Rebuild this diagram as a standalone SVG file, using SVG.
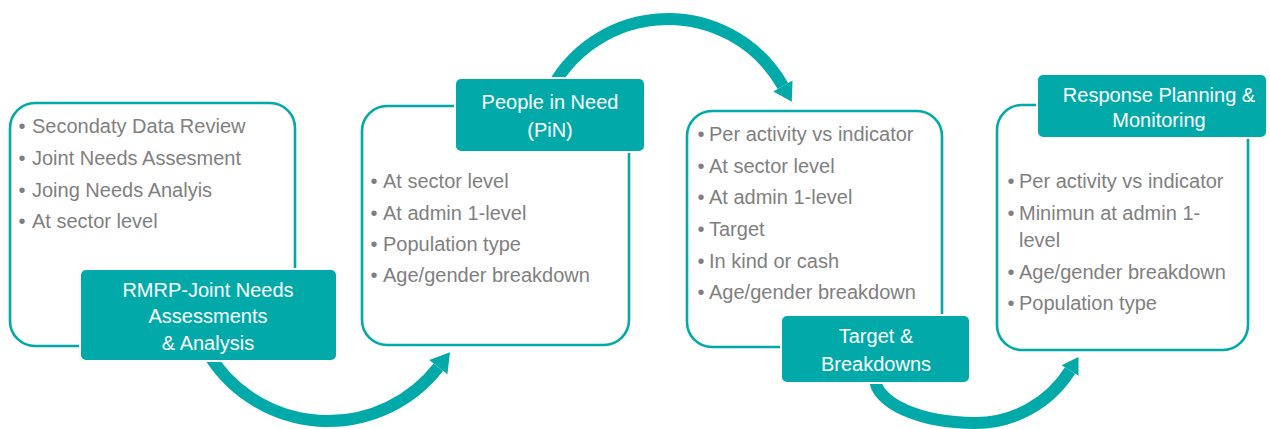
<svg xmlns="http://www.w3.org/2000/svg" width="1270" height="429" viewBox="0 0 1270 429">
<style>
.outline{fill:#ffffff;stroke:#02A9A9;stroke-width:2.6}
.label{fill:#02A9A9;stroke:#ffffff;stroke-width:2}
.arc{fill:none;stroke:#02A9A9;stroke-width:12}
.head{fill:#02A9A9}
.item{font-family:"Liberation Sans",Arial,sans-serif;font-size:20px;fill:#7F7F7F}
.ltxt{font-family:"Liberation Sans",Arial,sans-serif;font-size:20px;fill:#ffffff;text-anchor:middle}
</style>
<rect width="1270" height="429" fill="#ffffff"/>
<g id="connectors">
<path class="arc" d="M206.76 351 A140 140 0 0 0 438.32 367.19"/>
<polygon class="head" points="450,352.2 447.4,374.3 429.3,360.1"/>
<path class="arc" d="M543.96 105.85 A132 132 0 0 1 782.9 86"/>
<polygon class="head" points="791.8,101.7 792.5,80.6 773.3,91.4"/>
<path class="arc" d="M875 378 A100 45 0 0 0 975 423 A112 112 0 0 0 1070 370.5"/>
<polygon class="head" points="1078.5,357 1078.5,375.8 1061.6,365.2"/>
</g>
<g id="node1">
<rect class="outline" x="10" y="103" width="285" height="243" rx="25"/>
<text class="item" y="133.3"><tspan x="18.5">•</tspan><tspan x="32">Secondaty Data Review</tspan></text>
<text class="item" y="165"><tspan x="18.5">•</tspan><tspan x="32">Joint Needs Assesment</tspan></text>
<text class="item" y="196.7"><tspan x="18.5">•</tspan><tspan x="32">Joing Needs Analyis</tspan></text>
<text class="item" y="228.3"><tspan x="18.5">•</tspan><tspan x="32">At sector level</tspan></text>
<rect class="label" x="80" y="269" width="257" height="92" rx="6"/>
<text class="ltxt" x="208" y="296.7">RMRP-Joint Needs</text>
<text class="ltxt" x="208" y="323.3">Assessments</text>
<text class="ltxt" x="208" y="350">&amp; Analysis</text>
</g>
<g id="node2">
<rect class="outline" x="362" y="106" width="267" height="239" rx="25"/>
<rect class="label" x="455" y="78" width="190" height="74" rx="6"/>
<text class="ltxt" x="550" y="109.3">People in Need</text>
<text class="ltxt" x="550" y="136.7">(PiN)</text>
<text class="item" y="188.3"><tspan x="370.5">•</tspan><tspan x="383">At sector level</tspan></text>
<text class="item" y="219.8"><tspan x="370.5">•</tspan><tspan x="383">At admin 1-level</tspan></text>
<text class="item" y="251.3"><tspan x="370.5">•</tspan><tspan x="383">Population type</tspan></text>
<text class="item" y="282.3"><tspan x="370.5">•</tspan><tspan x="383">Age/gender breakdown</tspan></text>
</g>
<g id="node3">
<rect class="outline" x="687" y="111" width="255" height="236" rx="25"/>
<text class="item" y="141"><tspan x="697.5">•</tspan><tspan x="709">Per activity vs indicator</tspan></text>
<text class="item" y="172.7"><tspan x="697.5">•</tspan><tspan x="709">At sector level</tspan></text>
<text class="item" y="204.3"><tspan x="697.5">•</tspan><tspan x="709">At admin 1-level</tspan></text>
<text class="item" y="236"><tspan x="697.5">•</tspan><tspan x="709">Target</tspan></text>
<text class="item" y="267.7"><tspan x="697.5">•</tspan><tspan x="709">In kind or cash</tspan></text>
<text class="item" y="299.3"><tspan x="697.5">•</tspan><tspan x="709">Age/gender breakdown</tspan></text>
<rect class="label" x="781" y="315" width="189" height="68" rx="6"/>
<text class="ltxt" x="876" y="343.3">Target &amp;</text>
<text class="ltxt" x="876" y="370.7">Breakdowns</text>
</g>
<g id="node4">
<rect class="outline" x="997" y="105" width="251" height="245" rx="25"/>
<rect class="label" x="1037" y="74" width="230" height="64" rx="6"/>
<text class="ltxt" x="1159" y="101.7">Response Planning &amp;</text>
<text class="ltxt" x="1159" y="127.3">Monitoring</text>
<text class="item" y="188.3"><tspan x="1007.5">•</tspan><tspan x="1019">Per activity vs indicator</tspan></text>
<text class="item" y="220"><tspan x="1007.5">•</tspan><tspan x="1019">Minimun at admin 1-</tspan></text>
<text class="item" y="246.7"><tspan x="1019">level</tspan></text>
<text class="item" y="279.3"><tspan x="1007.5">•</tspan><tspan x="1019">Age/gender breakdown</tspan></text>
<text class="item" y="310"><tspan x="1007.5">•</tspan><tspan x="1019">Population type</tspan></text>
</g>
</svg>
